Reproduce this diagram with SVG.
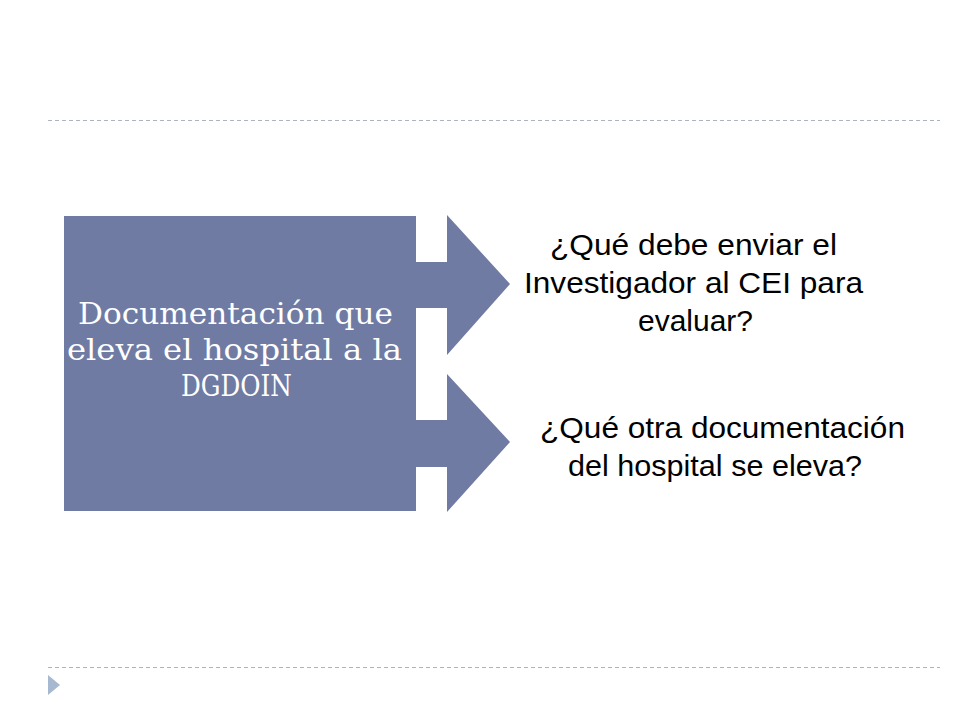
<svg xmlns="http://www.w3.org/2000/svg" width="960" height="720" viewBox="0 0 960 720">
<style>
.bg{fill:#ffffff}
.sep{stroke:#a9b3c2;stroke-width:1.2;stroke-dasharray:4 3;fill:none}
.shape{fill:#6f7ba3}
.lt{font-family:"DejaVu Serif","Liberation Serif",serif;font-size:29px;fill:#ffffff;text-anchor:middle}
.q{font-family:"Liberation Sans",Arial,sans-serif;font-size:30px;fill:#000000;text-anchor:middle}
</style>
<rect class="bg" x="0" y="0" width="960" height="720"/>
<line class="sep" x1="48" y1="120.5" x2="940" y2="120.5"/>
<line class="sep" x1="48" y1="667.5" x2="940" y2="667.5"/>
<polygon points="48,675 60,685 48,695" fill="#a6b9d1"/>
<g id="main">
<rect class="shape" x="64" y="216" width="352" height="295"/>
<text class="lt" x="235.5" y="324" textLength="315" lengthAdjust="spacingAndGlyphs">Documentación que</text>
<text class="lt" x="234.5" y="360" textLength="335" lengthAdjust="spacingAndGlyphs">eleva el hospital a la</text>
<text class="lt" x="236.5" y="396" textLength="111" lengthAdjust="spacingAndGlyphs">DGDOIN</text>
</g>
<g id="connectors">
<polygon class="shape" points="416,262 447,262 447,215 510,284 447,355 447,308 416,308"/>
<polygon class="shape" points="416,420 447,420 447,374 510,442 447,512 447,467 416,467"/>
</g>
<g id="q1">
<text class="q" x="693.5" y="255" textLength="287" lengthAdjust="spacingAndGlyphs">¿Qué debe enviar el</text>
<text class="q" x="693.5" y="293" textLength="339" lengthAdjust="spacingAndGlyphs">Investigador al CEI para</text>
<text class="q" x="695.5" y="331" textLength="115" lengthAdjust="spacingAndGlyphs">evaluar?</text>
</g>
<g id="q2">
<text class="q" x="722.5" y="438" textLength="365" lengthAdjust="spacingAndGlyphs">¿Qué otra documentación</text>
<text class="q" x="715" y="476" textLength="294" lengthAdjust="spacingAndGlyphs">del hospital se eleva?</text>
</g>
</svg>
